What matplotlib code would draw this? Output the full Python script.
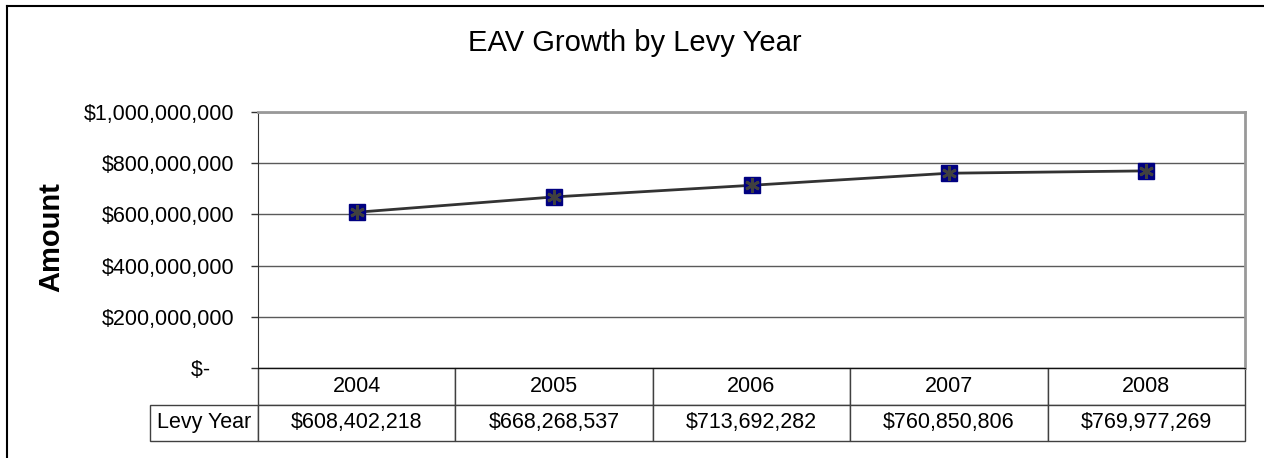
import matplotlib
matplotlib.use('Agg')
import matplotlib.pyplot as plt
from matplotlib.lines import Line2D
from matplotlib.ticker import FuncFormatter

plt.rcParams['font.family'] = ['Liberation Sans', 'DejaVu Sans']

years = ['2004', '2005', '2006', '2007', '2008']
eav = [608402218, 668268537, 713692282, 760850806, 769977269]
row_label = 'Levy Year'
y_ticks = [0, 200000000, 400000000, 600000000, 800000000, 1000000000]


def money(v, pos=None):
    if v == 0:
        return '$-    '
    return '${:,.0f}'.format(v)


fig = plt.figure(figsize=(12.64, 4.58), dpi=100)
ax = fig.add_axes([258 / 1264, 90 / 458, 987 / 1264, 256 / 458])

x = list(range(len(years)))
ax.plot(x, eav, color='#333333', lw=2, zorder=3)
ax.plot(x, eav, ls='none', marker='s', ms=11.5, mfc='#000080',
        mec='#000080', zorder=4)
ax.plot(x, eav, ls='none', marker=(6, 2, 0), ms=10.5, mec='#404040',
        mew=2, zorder=5)

ax.set_xlim(-0.5, len(years) - 0.5)
ax.set_ylim(0, 1000000000)
ax.set_yticks(y_ticks)
ax.yaxis.set_major_formatter(FuncFormatter(money))
ax.tick_params(axis='y', direction='out', length=5, width=1,
               color='#333333', labelsize=15.5, pad=12)
ax.set_xticks([])
ax.grid(axis='y', color='#5a5a5a', lw=1)
ax.set_axisbelow(True)

for side in ['top', 'right']:
    ax.spines[side].set_color('#999999')
    ax.spines[side].set_linewidth(2)
ax.spines['left'].set_color('#333333')
ax.spines['bottom'].set_color('#111111')

# data table under the plot
cell_text = [[''] + years,
             [row_label] + ['${:,}'.format(v) for v in eav]]
tbl = ax.table(cellText=cell_text, cellLoc='center',
               colWidths=[108] + [197.4] * len(years),
               bbox=[-108 / 987, -73 / 256, 1095 / 987, 73 / 256])
tbl.auto_set_font_size(False)
tbl.set_fontsize(15.5)
for (r, c), cell in tbl.get_celld().items():
    cell.set_edgecolor('#404040')
    cell.set_linewidth(1)
tbl[0, 0].set_visible(False)

fig.text(0.502, 1 - 43 / 458, 'EAV Growth by Levy Year', ha='center',
         va='center', fontsize=21)
fig.text(51 / 1264, 1 - 237 / 458, 'Amount', rotation=90, ha='center',
         va='center', fontsize=21, fontweight='bold')

# chart frame
fig.add_artist(Line2D([7 / 1264, 1], [1 - 6 / 458] * 2, color='black',
                      lw=1.5, transform=fig.transFigure))
fig.add_artist(Line2D([7 / 1264] * 2, [0, 1 - 6 / 458], color='black',
                      lw=1.5, transform=fig.transFigure))

fig.savefig('out.png', dpi=100)
